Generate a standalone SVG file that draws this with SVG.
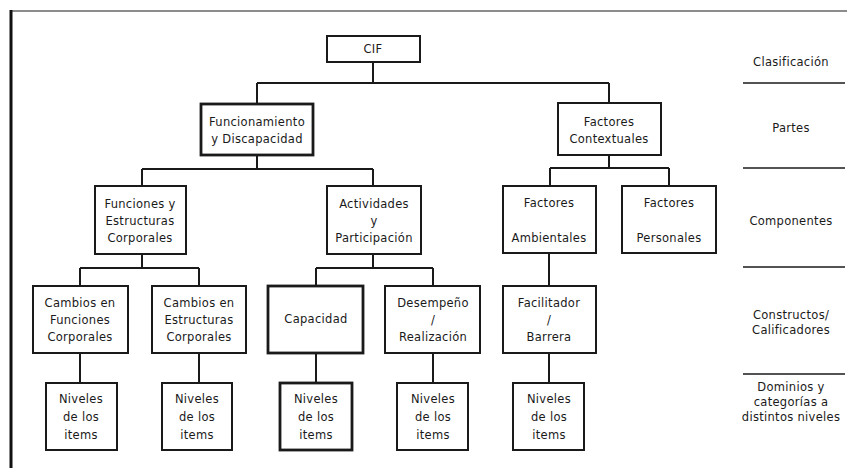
<svg xmlns="http://www.w3.org/2000/svg" width="847" height="468" viewBox="0 0 847 468">
  <style>
    .box { fill: #ffffff; stroke: #1a1a1a; stroke-width: 2; }
    .thick { stroke-width: 2.8; }
    .wire { fill: none; stroke: #1a1a1a; stroke-width: 2; }
    .rule { stroke: #1a1a1a; stroke-width: 1.6; }
    text { font-family: "DejaVu Sans", "Liberation Sans", sans-serif; font-size: 11.5px; letter-spacing: 0.3px; fill: #1a1a1a; text-anchor: middle; }
  </style>
  <rect width="847" height="468" fill="#ffffff"/>

  <!-- frame -->
  <g id="frame">
    <line x1="10" y1="11" x2="847" y2="11" stroke="#666" stroke-width="1.5"/>
    <line x1="11" y1="10" x2="11" y2="468" stroke="#111" stroke-width="3"/>
  </g>

  <!-- connectors -->
  <g id="connectors" class="wire">
    <path d="M373 62 V83 M257 83 H609 M257 83 V104 M609 83 V103"/>
    <path d="M257 155 V169 M142 169 H373 M142 169 V186 M373 169 V186"/>
    <path d="M609 155 V168 M550 168 H669 M550 168 V186 M669 168 V186"/>
    <path d="M142 254 V268 M80 268 H199 M80 268 V286 M199 268 V286"/>
    <path d="M373 254 V268 M316 268 H433 M316 268 V286 M433 268 V286"/>
    <path d="M549 253 V286"/>
    <path d="M80 353 V383 M199 353 V383 M316 353 V383 M433 353 V383 M549 353 V383"/>
  </g>

  <!-- level 0 -->
  <g id="cif">
    <rect class="box" x="327" y="36" width="93" height="26"/>
    <text x="373" y="53">CIF</text>
  </g>

  <!-- level 1 -->
  <g id="funcionamiento">
    <rect class="box thick" x="201" y="104" width="112" height="51"/>
    <text x="257" y="126">Funcionamiento</text>
    <text x="257" y="143">y Discapacidad</text>
  </g>
  <g id="contextuales">
    <rect class="box" x="558" y="103" width="103" height="52"/>
    <text x="609" y="126">Factores</text>
    <text x="609" y="143">Contextuales</text>
  </g>

  <!-- level 2 -->
  <g id="funciones">
    <rect class="box" x="95" y="186" width="91" height="68"/>
    <text x="140" y="208">Funciones y</text>
    <text x="140" y="225">Estructuras</text>
    <text x="140" y="242">Corporales</text>
  </g>
  <g id="actividades">
    <rect class="box" x="327" y="186" width="94" height="68"/>
    <text x="374" y="208">Actividades</text>
    <text x="374" y="225">y</text>
    <text x="374" y="242">Participación</text>
  </g>
  <g id="ambientales">
    <rect class="box" x="503" y="186" width="93" height="67"/>
    <text x="549" y="207">Factores</text>
    <text x="549" y="242">Ambientales</text>
  </g>
  <g id="personales">
    <rect class="box" x="622" y="186" width="94" height="67"/>
    <text x="669" y="207">Factores</text>
    <text x="669" y="242">Personales</text>
  </g>

  <!-- level 3 -->
  <g id="cambios-funciones">
    <rect class="box" x="33" y="286" width="95" height="67"/>
    <text x="80" y="307">Cambios en</text>
    <text x="80" y="324">Funciones</text>
    <text x="80" y="341">Corporales</text>
  </g>
  <g id="cambios-estructuras">
    <rect class="box" x="152" y="286" width="94" height="67"/>
    <text x="199" y="307">Cambios en</text>
    <text x="199" y="324">Estructuras</text>
    <text x="199" y="341">Corporales</text>
  </g>
  <g id="capacidad">
    <rect class="box thick" x="268" y="286" width="95" height="67"/>
    <text x="316" y="323">Capacidad</text>
  </g>
  <g id="desempeno">
    <rect class="box" x="385" y="286" width="95" height="67"/>
    <text x="433" y="307">Desempeño</text>
    <text x="433" y="324">/</text>
    <text x="433" y="341">Realización</text>
  </g>
  <g id="facilitador">
    <rect class="box" x="503" y="286" width="93" height="67"/>
    <text x="549" y="307">Facilitador</text>
    <text x="549" y="324">/</text>
    <text x="549" y="341">Barrera</text>
  </g>

  <!-- level 4 -->
  <g id="niveles-1">
    <rect class="box" x="46" y="383" width="71" height="67"/>
    <text x="81" y="403">Niveles</text>
    <text x="81" y="421">de los</text>
    <text x="81" y="439">items</text>
  </g>
  <g id="niveles-2">
    <rect class="box" x="162" y="383" width="70" height="67"/>
    <text x="197" y="403">Niveles</text>
    <text x="197" y="421">de los</text>
    <text x="197" y="439">items</text>
  </g>
  <g id="niveles-3">
    <rect class="box thick" x="280" y="383" width="72" height="67"/>
    <text x="316" y="403">Niveles</text>
    <text x="316" y="421">de los</text>
    <text x="316" y="439">items</text>
  </g>
  <g id="niveles-4">
    <rect class="box" x="397" y="383" width="71" height="67"/>
    <text x="433" y="403">Niveles</text>
    <text x="433" y="421">de los</text>
    <text x="433" y="439">items</text>
  </g>
  <g id="niveles-5">
    <rect class="box" x="513" y="383" width="71" height="67"/>
    <text x="549" y="403">Niveles</text>
    <text x="549" y="421">de los</text>
    <text x="549" y="439">items</text>
  </g>

  <!-- level legend -->
  <g id="legend">
    <text x="791" y="66">Clasificación</text>
    <line class="rule" x1="743" y1="83" x2="845" y2="83"/>
    <text x="791" y="132">Partes</text>
    <line class="rule" x1="743" y1="168" x2="845" y2="168"/>
    <text x="791" y="225">Componentes</text>
    <line class="rule" x1="743" y1="267" x2="845" y2="267"/>
    <text x="791" y="319">Constructos/</text>
    <text x="791" y="334">Calificadores</text>
    <line class="rule" x1="743" y1="374" x2="845" y2="374"/>
    <text x="791" y="391">Dominios y</text>
    <text x="791" y="406">categorías a</text>
    <text x="791" y="421">distintos niveles</text>
  </g>
</svg>
